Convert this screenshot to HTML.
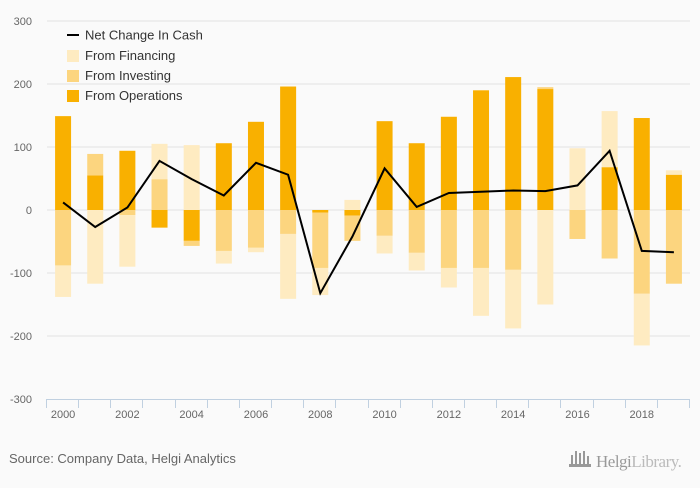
<!DOCTYPE html>
<html><head><meta charset="utf-8">
<style>
html,body{margin:0;padding:0;background:#fafafa;}
body{width:700px;height:483px;overflow:hidden;font-family:"Liberation Sans","DejaVu Sans",sans-serif;}
</style></head>
<body>
<svg id="chart" width="700" height="483" xmlns="http://www.w3.org/2000/svg">
<rect x="0" y="0" width="700" height="483" fill="#fafafa"/>
<g id="grid"></g>
<g id="bars"></g>
<g id="line"></g>
<g id="axes"></g>
<g id="legend">
  <line x1="67" y1="35" x2="79" y2="35" stroke="#000" stroke-width="2"/>
  <text x="85" y="39.5" font-size="13" fill="#333">Net Change In Cash</text>
  <rect x="67" y="50" width="12" height="12" fill="#feebc1"/>
  <text x="85" y="60" font-size="13" fill="#333">From Financing</text>
  <rect x="67" y="70" width="12" height="12" fill="#fcd57f"/>
  <text x="85" y="80" font-size="13" fill="#333">From Investing</text>
  <rect x="67" y="90" width="12" height="12" fill="#f9b000"/>
  <text x="85" y="100" font-size="13" fill="#333">From Operations</text>
</g>
<text x="9" y="463" font-size="13" fill="#666">Source: Company Data, Helgi Analytics</text>
<g>
  <g fill="#999">
    <rect x="571" y="455" width="2" height="10"/><rect x="575" y="451" width="2" height="14"/><rect x="579" y="453" width="2" height="12"/><rect x="583" y="451" width="2" height="14"/><rect x="587" y="456" width="2" height="9"/>
    <rect x="569" y="464" width="22" height="3"/>
  </g>
  <text x="596" y="467" font-size="17" fill="#999" font-family="Liberation Serif, serif" letter-spacing="-0.5">Helgi<tspan fill="#bbb">Library.</tspan></text>
</g>
</svg>
<script>
const years = [2000,2001,2002,2003,2004,2005,2006,2007,2008,2009,2010,2011,2012,2013,2014,2015,2016,2017,2018,2019];
const operations = [149,55,94,-28,-49,106,140,196,-4,-9,141,106,148,190,211,192,0,68,146,56];
const investing = [-88,34,-8,49,-8,-65,-60,-38,-88,-40,-41,-68,-92,-92,-95,3,-46,-77,-133,-117];
const financing = [-50,-117,-82,56,103,-20,-7,-103,-43,16,-28,-28,-31,-76,-93,-150,98,89,-82,7];
const netChange = [12,-27,4,78,49,23,75,56,-132,-42,66,5,27,29,31,30,39,94,-65,-67];
const yTicks = [-300,-200,-100,0,100,200,300];
const xLabels = [2000,2002,2004,2006,2008,2010,2012,2014,2016,2018];

const NS = "http://www.w3.org/2000/svg";
const plotL = 47, plotR = 690, plotT = 21, plotB = 399;
const yMin = -300, yMax = 300;
const band = (plotR - plotL) / years.length;
const barW = 16;
function yScale(v){ return plotB - (v - yMin) / (yMax - yMin) * (plotB - plotT); }
function xCenter(i){ return plotL + band * (i + 0.5); }
function mk(tag, attrs, parent){ const e = document.createElementNS(NS, tag); for (const k in attrs) e.setAttribute(k, attrs[k]); parent.appendChild(e); return e; }

const grid = document.getElementById('grid');
const axes = document.getElementById('axes');
yTicks.forEach(t => {
  if (t !== yMin) {
    const l = mk('line', {x1: plotL, x2: plotR, y1: yScale(t), y2: yScale(t), stroke: '#e3e3e3', 'stroke-width': 1}, grid);
    
    
  }
  const tx = mk('text', {x: 32, y: yScale(t) + 4, 'font-size': 11, fill: '#666', 'text-anchor': 'end'}, axes);
  tx.textContent = t;
  
  
});
const ax = mk('line', {x1: plotL - 1, x2: plotR, y1: plotB + 0.5, y2: plotB + 0.5, stroke: '#c0d0e0', 'stroke-width': 1}, axes);


for (let i = 0; i <= years.length; i++) {
  const x = Math.round(plotL + band * i) - 0.5;
  const tk = mk('line', {x1: x, x2: x, y1: plotB, y2: plotB + 9, stroke: '#c0d0e0', 'stroke-width': 1}, axes);
  
  
}
xLabels.forEach(y => {
  const i = years.indexOf(y);
  const tx = mk('text', {x: xCenter(i), y: 418, 'font-size': 11, fill: '#666', 'text-anchor': 'middle'}, axes);
  tx.textContent = y;
  
  
});

const bars = document.getElementById('bars');
const series = [
  {name: 'operations', vals: operations, color: '#f9b000'},
  {name: 'investing', vals: investing, color: '#fcd57f'},
  {name: 'financing', vals: financing, color: '#feebc1'}
];
years.forEach((yr, i) => {
  let pos = 0, neg = 0;
  series.forEach(s => {
    const v = s.vals[i];
    if (v === 0) return;
    let a, b;
    if (v > 0) { a = pos; b = pos + v; pos = b; } else { a = neg; b = neg + v; neg = b; }
    const y1 = yScale(Math.max(a, b)), y2 = yScale(Math.min(a, b));
    const r = mk('rect', {x: xCenter(i) - barW / 2, y: y1, width: barW, height: y2 - y1, fill: s.color}, bars);
    
    
  });
});

const lineG = document.getElementById('line');
const pts = netChange.map((v, i) => xCenter(i).toFixed(1) + ',' + yScale(v).toFixed(1)).join(' ');
const pl = mk('polyline', {points: pts, fill: 'none', stroke: '#000', 'stroke-width': 2, 'stroke-linejoin': 'miter'}, lineG);


</script>
</body></html>
